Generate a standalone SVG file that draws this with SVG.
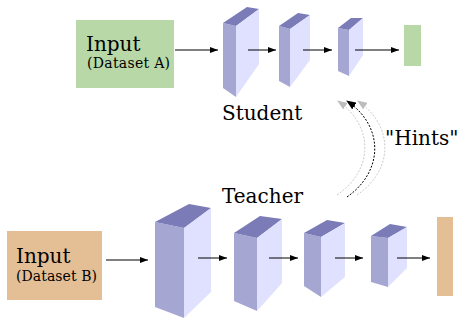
<svg xmlns="http://www.w3.org/2000/svg" width="464" height="320" viewBox="0 0 464 320">
<defs>
<style>
.t{font-family:"DejaVu Serif","Liberation Serif",serif;fill:#000}
.big{font-size:20px}
.small{font-size:14px}
.f{fill:#a6a6d2}
.s{fill:#e0e0ff}
.p{fill:#7b7bb8}
.a{stroke:#000;stroke-width:1;fill:none;marker-end:url(#ah)}
.hb{fill:none;stroke:#000;stroke-width:1;stroke-dasharray:2 1.5;marker-end:url(#hk)}
.hg{fill:none;stroke:#bdbdbd;stroke-width:0.8;stroke-dasharray:2 1.5;marker-end:url(#hgm)}
</style>
<marker id="ah" markerWidth="8" markerHeight="6" refX="8" refY="3" orient="auto" markerUnits="userSpaceOnUse">
<path d="M0,0 L8,3 L0,6 Z" fill="#000"/>
</marker>
<marker id="hk" markerWidth="10" markerHeight="8" refX="9" refY="4" orient="auto" markerUnits="userSpaceOnUse">
<path d="M0,0 L10,4 L0,8 Z" fill="#000"/>
</marker>
<marker id="hgm" markerWidth="10" markerHeight="8" refX="9" refY="4" orient="auto" markerUnits="userSpaceOnUse">
<path d="M0,0 L10,4 L0,8 Z" fill="#bdbdbd"/>
</marker>
</defs>
<rect width="464" height="320" fill="#fff"/>

<g id="inputA">
<rect x="76" y="20" width="98" height="68" fill="#b8d8a8"/>
<text class="t big" x="86" y="51">Input</text>
<text class="t small" x="87" y="68" textLength="83">(Dataset A)</text>
</g>

<g id="s1">
<polygon class="f" points="223,23 236,26 236,97 223,88"/>
<polygon class="p" points="223,23 247,7 259,9 236,26"/>
<polygon class="s" points="236,26 259,9 259,64 236,97"/>
</g>
<g id="s2">
<polygon class="f" points="279,26 290,29 290,87 279,81"/>
<polygon class="p" points="279,26 298,13 310,15 290,29"/>
<polygon class="s" points="290,29 310,15 310,60 290,87"/>
</g>
<g id="s3">
<polygon class="f" points="338,28 349,30 349,76 338,71"/>
<polygon class="p" points="338,28 351,18 363,18 349,30"/>
<polygon class="s" points="349,30 363,18 363,55 349,76"/>
</g>
<g id="sout">
<rect x="404" y="25" width="17" height="41" fill="#b8d8a8"/>
</g>

<g id="inputB">
<rect x="7" y="231" width="95" height="69" fill="#e4bf96"/>
<text class="t big" x="16" y="263">Input</text>
<text class="t small" x="16" y="281" textLength="81">(Dataset B)</text>
</g>

<g id="t1">
<polygon class="f" points="155,222 184,228 184,318 155,307"/>
<polygon class="p" points="155,222 189,204 211,208 184,228"/>
<polygon class="s" points="184,228 211,208 211,292 184,318"/>
</g>
<g id="t2">
<polygon class="f" points="234,233 257,238 257,311 234,301"/>
<polygon class="p" points="234,233 260,216 282,219 257,238"/>
<polygon class="s" points="257,238 282,219 282,283 257,311"/>
</g>
<g id="t3">
<polygon class="f" points="304,233 321,237 321,297 304,286"/>
<polygon class="p" points="304,233 327,220 345,223 321,237"/>
<polygon class="s" points="321,237 345,223 345,277 321,297"/>
</g>
<g id="t4">
<polygon class="f" points="371,236 388,238 388,287 371,282"/>
<polygon class="p" points="371,236 390,224 407,227 388,238"/>
<polygon class="s" points="388,238 407,227 407,268 388,287"/>
</g>
<g id="tout">
<rect x="437" y="217" width="16" height="79" fill="#e4bf96"/>
</g>

<g id="labels">
<text class="t big" x="222" y="120">Student</text>
<text class="t big" x="222" y="203">Teacher</text>
<text class="t big" x="385" y="145">"Hints"</text>
</g>

<g id="connectors">
<line class="a" x1="175" y1="50" x2="218" y2="50"/>
<line class="a" x1="248" y1="50" x2="276" y2="50"/>
<line class="a" x1="303" y1="50" x2="332" y2="50"/>
<line class="a" x1="355" y1="50" x2="399" y2="50"/>
<line class="a" x1="106" y1="260" x2="148" y2="260"/>
<line class="a" x1="198" y1="258" x2="227" y2="258"/>
<line class="a" x1="269" y1="258" x2="298" y2="258"/>
<line class="a" x1="335" y1="258" x2="363" y2="258"/>
<line class="a" x1="397" y1="258" x2="430" y2="258"/>
<path class="hg" d="M337,195 C374,170 374,126 338,101"/>
<path class="hg" d="M357,195 C394,170 394,126 358,101"/>
<path class="hb" d="M347,197 C384,171 384,126 347,101"/>
</g>
</svg>
